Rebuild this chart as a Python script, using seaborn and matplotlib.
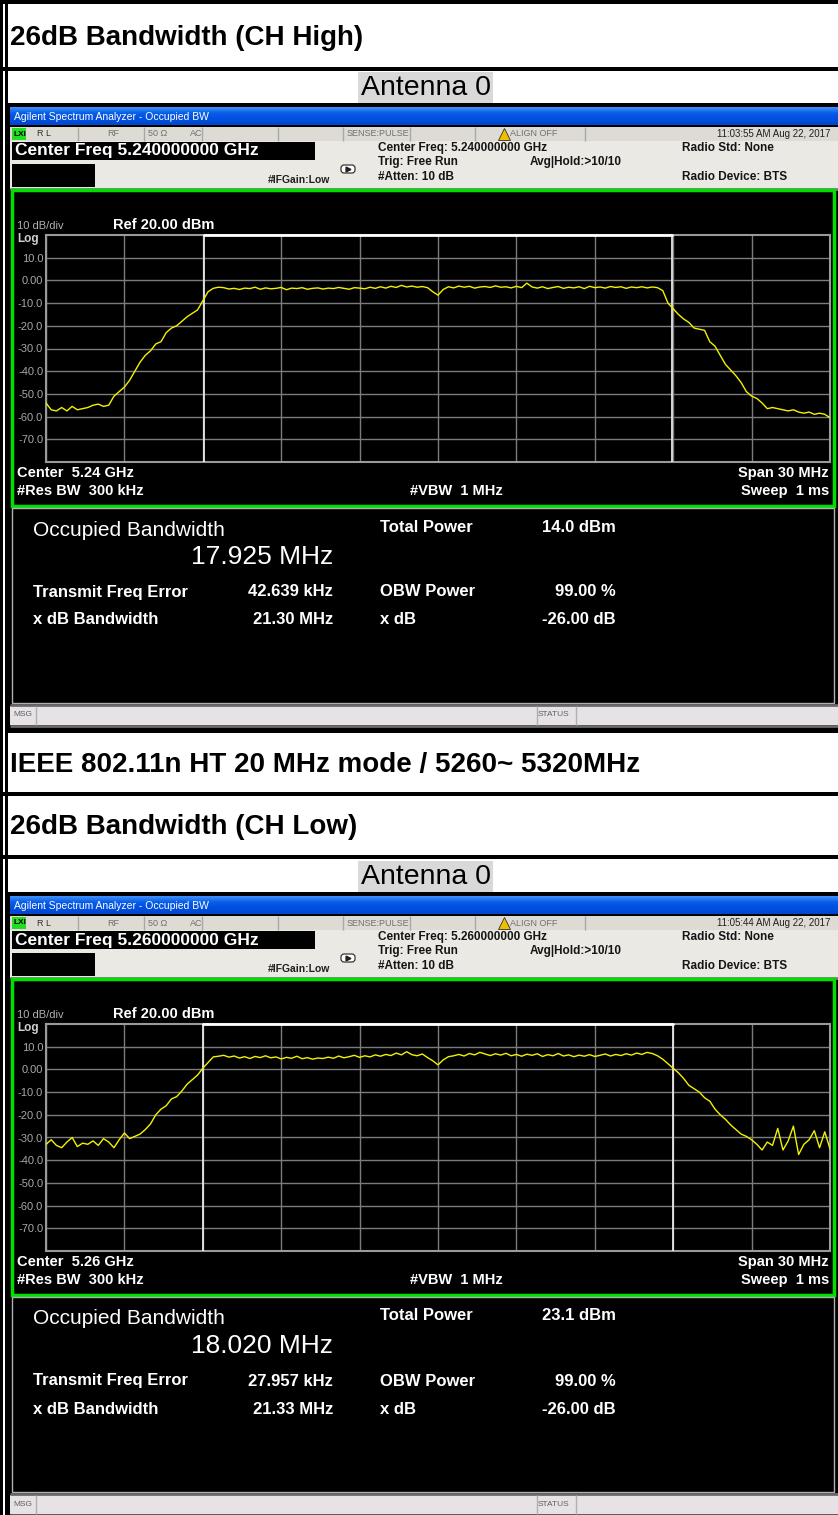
import matplotlib
matplotlib.use('Agg')
import matplotlib.pyplot as plt
from matplotlib.patches import Rectangle, FancyBboxPatch
from matplotlib.colors import LinearSegmentedColormap
import seaborn as sns
import numpy as np

W, H = 838, 1515

# trace values in dBm, sweep from center-15 MHz to center+15 MHz
trace_high = [
    -54.0, -57.0, -57.5, -56.0, -57.5, -55.5, -57.0, -56.5, -56.0, -55.0,
    -54.5, -55.5, -55.0, -51.0, -49.0, -47.0, -44.0, -40.0, -36.0, -33.0,
    -31.0, -28.0, -27.0, -23.0, -21.0, -20.0, -18.0, -16.0, -14.5, -13.0,
    -9.0, -5.0, -3.5, -3.0,
    -3.2, -3.8, -3.5, -4.0, -3.4, -3.6, -3.0, -3.9, -3.3, -3.7,
    -3.5, -3.1, -4.1, -3.4, -3.6, -3.2, -3.9, -3.5, -3.3, -3.8,
    -3.4, -3.6, -3.1, -3.5, -3.9, -3.2, -3.4, -3.7, -3.0, -3.5,
    -2.8, -3.4, -2.6, -3.1, -2.2, -2.9, -2.5, -3.0, -2.7, -3.2,
    -5.0, -6.5, -4.0, -2.8, -3.3, -2.5, -3.0, -2.6, -3.4, -2.9,
    -2.7, -3.1, -2.4, -3.0, -2.8, -3.3, -2.6, -3.2, -1.2, -2.9,
    -3.4, -2.8, -3.6, -3.1, -2.7, -3.5, -3.0, -3.3, -2.8, -3.6,
    -2.6, -3.2, -2.9, -3.4, -2.7, -3.1, -2.8, -3.5, -2.9, -3.2,
    -2.8, -3.3, -2.9, -3.2,
    -4.5, -10.0, -12.5, -15.0, -17.0, -18.5, -21.0, -21.5, -22.0, -27.0,
    -29.0, -33.0, -37.0, -39.5, -42.0, -45.0, -49.0, -51.0, -52.0, -54.0,
    -56.5, -56.0, -56.5, -57.0, -57.5, -57.0, -58.0, -58.5, -58.0, -59.0,
    -58.5, -59.0, -60.5,
]
trace_low = [
    -33.0, -31.0, -33.5, -34.5, -32.0, -30.0, -34.0, -32.5, -33.0, -31.5,
    -33.5, -30.5, -32.0, -34.5, -31.0, -28.0, -30.5, -29.5, -28.5, -26.5,
    -24.0, -20.0, -17.5, -16.0, -13.0, -12.0, -9.5, -6.5, -4.5, -2.5,
    0.5, 3.0, 5.5, 5.8,
    6.2, 5.4, 5.9, 5.0, 5.6, 4.8, 5.7, 5.2, 6.0, 5.1,
    5.5, 4.6, 5.3, 4.9, 5.8, 4.7, 5.2, 4.5, 5.0, 4.8,
    5.4, 4.9, 5.9, 5.1, 5.6, 6.2, 5.3, 6.0, 5.5, 6.4,
    5.8, 6.6, 6.1, 7.2, 6.4, 7.8, 6.5, 6.0, 6.8, 5.2,
    3.8, 2.0, 4.2, 5.6, 6.0, 6.6, 5.9, 7.0, 6.4, 7.5,
    6.8, 6.1, 6.9, 6.3, 7.1, 6.0, 6.6, 5.8, 6.7, 6.2,
    6.9, 5.7, 6.5, 6.0, 7.0, 5.9, 6.4, 5.6, 6.3, 5.8,
    6.5, 5.7, 6.2, 6.8, 5.9, 6.6, 6.1, 6.9, 6.3, 7.2,
    6.6, 7.5,
    7.0, 6.0, 4.5, 2.5, 0.5, -1.5, -4.0, -7.0, -8.5, -10.0,
    -12.5, -14.0, -17.5, -20.0, -22.0, -24.5, -26.5, -28.5, -29.5, -31.0,
    -33.0, -35.5, -32.0, -33.5, -26.0, -35.5, -31.5, -25.0, -37.5, -33.0,
    -31.0, -27.0, -34.5, -27.5, -35.0,
]

section_titles = ['26dB Bandwidth (CH High)', 'IEEE 802.11n HT 20 MHz mode / 5260~ 5320MHz',
                  '26dB Bandwidth (CH Low)']
center_ghz = [5.24, 5.26]
span_mhz = 30
obw_mhz = [17.925, 18.020]
total_power = ['14.0 dBm', '23.1 dBm']
freq_error = ['42.639 kHz', '27.957 kHz']
xdb_bw = ['21.30 MHz', '21.33 MHz']
timestamps = ['11:03:55 AM Aug 22, 2017', '11:05:44 AM Aug 22, 2017']
y_ticks = [10, 0, -10, -20, -30, -40, -50, -60, -70]
y_labels = ['10.0', '0.00', '-10.0', '-20.0', '-30.0', '-40.0', '-50.0', '-60.0', '-70.0']

sns.set_style('white')
plt.rcParams['font.family'] = ['Liberation Sans', 'DejaVu Sans']

fig = plt.figure(figsize=(W / 100, H / 100), dpi=100)
bg = fig.add_axes([0, 0, 1, 1])
bg.set_xlim(0, W)
bg.set_ylim(H, 0)
bg.axis('off')


def box(x0, y0, x1, y1, fc, ec='none', lw=0, z=1):
    bg.add_patch(Rectangle((x0, y0), x1 - x0, y1 - y0, facecolor=fc,
                           edgecolor=ec, linewidth=lw, zorder=z))


def txt(x, y, s, size, color='black', weight='normal', ha='left', z=6):
    bg.text(x, y, s, fontsize=size, color=color, fontweight=weight,
            ha=ha, va='center', zorder=z)


def vline(x, y0, y1, color, lw=1, z=3):
    bg.plot([x, x], [y0, y1], color=color, lw=lw, zorder=z, solid_capstyle='butt')


def hline(y, x0, x1, color, lw=1, z=3):
    bg.plot([x0, x1], [y, y], color=color, lw=lw, zorder=z, solid_capstyle='butt')


# document table
box(0, 0, W, H, 'white', z=0)
box(0, 0, W, 4, 'black')
for y0, y1 in [(67, 71), (792, 796), (855, 859)]:
    box(0, y0, W, y1, 'black')
box(0, 0, 3, H, 'black', z=8)
box(5, 0, 8, H, 'black', z=8)

txt(10, 38, section_titles[0], 20, weight='bold')
txt(10, 765, section_titles[1], 20, weight='bold')
txt(10, 827, section_titles[2], 20, weight='bold')
for ay in [72, 861]:
    box(358, ay, 493, ay + 31, '#d9d9d9')
    txt(425.5, ay + 16, 'Antenna 0', 20.5, ha='center')

title_cmap = LinearSegmentedColormap.from_list('xp', ['#3d8ef8', '#0a5ce8', '#0050e0', '#0046d0'])


def draw_screen(oy, k, trace):
    box(8, oy, W, min(oy + 630, H), 'black')
    # title bar
    grad = np.linspace(0, 1, 20).reshape(-1, 1)
    bg.imshow(grad, extent=[10, W, oy + 22, oy + 4], aspect='auto', cmap=title_cmap, zorder=2)
    txt(14, oy + 14, 'Agilent Spectrum Analyzer - Occupied BW', 7.5, 'white')
    # status row
    box(10, oy + 24, W, oy + 38, '#dedbd4', z=2)
    for dx in [78, 144, 202, 278, 343, 410, 475, 585]:
        vline(dx, oy + 24, oy + 38, '#a8a8a8')
    box(12, oy + 25, 26, oy + 37, '#22dd22', z=3)
    txt(13, oy + 31, 'LXI', 6, weight='bold')
    txt(37, oy + 31, 'R L', 6.5, '#303030')
    txt(107, oy + 31, 'RF', 6.5, '#707070')
    txt(148, oy + 31, '50 Ω', 6.5, '#707070')
    txt(190, oy + 31, 'AC', 6.5, '#707070')
    txt(347, oy + 31, 'SENSE:PULSE', 6.5, '#707070')
    bg.plot(504, oy + 31, marker='^', color='#f0c000', markersize=8,
            markeredgecolor='#303030', markeredgewidth=0.6, zorder=5)
    txt(510, oy + 31, 'ALIGN OFF', 6.5, '#707070')
    txt(830, oy + 31, timestamps[k], 7, '#202020', ha='right')
    # info area
    box(10, oy + 38, W, oy + 86, '#ebe9e3', z=2)
    box(12, oy + 39, 315, oy + 57, 'black', z=3)
    txt(15, oy + 48, f'Center Freq {center_ghz[k]:.9f} GHz', 12.5, 'white', 'bold')
    box(12, oy + 61, 95, oy + 84, 'black', z=3)
    txt(268, oy + 77, '#IFGain:Low', 7.5, '#202020', 'bold')
    bg.add_patch(FancyBboxPatch((341, oy + 62), 14, 8, boxstyle='round,pad=0,rounding_size=3',
                                facecolor='white', edgecolor='#202020', lw=0.8, zorder=4))
    bg.plot(348, oy + 66, marker='>', color='#202020', markersize=3.5, zorder=5)
    txt(378, oy + 45, f'Center Freq: {center_ghz[k]:.9f} GHz', 8.5, '#151515', 'bold')
    txt(378, oy + 59, 'Trig: Free Run', 8.5, '#151515', 'bold')
    txt(378, oy + 74, '#Atten: 10 dB', 8.5, '#151515', 'bold')
    txt(530, oy + 59, 'Avg|Hold:>10/10', 8.5, '#151515', 'bold')
    txt(682, oy + 45, 'Radio Std: None', 8.5, '#151515', 'bold')
    txt(682, oy + 74, 'Radio Device: BTS', 8.5, '#151515', 'bold')
    hline(oy + 86, 10, W, '#7a7a7a', lw=2)
    # trace window
    box(12, oy + 87, 834, oy + 403, 'black', ec='#00e000', lw=2.5, z=3)
    txt(17, oy + 123, '10 dB/div', 8, '#b0b0b0')
    txt(17, oy + 136, 'Log', 8.5, '#d0d0d0', 'bold')
    txt(113, oy + 122, 'Ref 20.00 dBm', 10.5, 'white', 'bold')
    txt(17, oy + 370, f'Center  {center_ghz[k]:.2f} GHz', 10.5, 'white', 'bold')
    txt(829, oy + 370, f'Span {span_mhz} MHz', 10.5, 'white', 'bold', ha='right')
    txt(17, oy + 388, '#Res BW  300 kHz', 10.5, 'white', 'bold')
    txt(410, oy + 388, '#VBW  1 MHz', 10.5, 'white', 'bold')
    txt(829, oy + 388, 'Sweep  1 ms', 10.5, 'white', 'bold', ha='right')

    sax = fig.add_axes([46 / W, 1 - (oy + 359) / H, 784 / W, 227 / H])
    sax.set_facecolor('black')
    freq = np.linspace(-span_mhz / 2, span_mhz / 2, len(trace))
    sns.lineplot(x=freq, y=trace, ax=sax, color='#f2f200', linewidth=1.0, zorder=4)
    sax.set_xlim(-span_mhz / 2, span_mhz / 2)
    sax.set_ylim(-80, 20)
    sax.set_xticks(np.arange(-15, 16, 3))
    sax.set_xticklabels([])
    sax.set_yticks(y_ticks)
    sax.set_yticklabels(y_labels)
    sax.tick_params(length=0, colors='#a8a8a8', labelsize=8, pad=2)
    sax.grid(True, color='#7c7c7c', lw=1)
    for sp in sax.spines.values():
        sp.set_color('#9a9a9a')
        sp.set_linewidth(1.5)
    half = obw_mhz[k] / 2
    sax.axvline(-half, color='#e8e8e8', lw=1.3, zorder=3)
    sax.axvline(half, color='#e8e8e8', lw=1.3, zorder=3)
    sax.plot([-half, half], [20, 20], color='white', lw=2, clip_on=False, zorder=5)
    sax.set_xlabel('')
    sax.set_ylabel('')

    # measurement results
    box(12, oy + 405, 834, oy + 600, 'black', ec='#b0b0b0', lw=1, z=3)
    txt(33, oy + 427, 'Occupied Bandwidth', 15, 'white')
    txt(333, oy + 454, f'{obw_mhz[k]:.3f} MHz', 19, 'white', ha='right')
    txt(380, oy + 424, 'Total Power', 12, 'white', 'bold')
    txt(616, oy + 424, total_power[k], 12, 'white', 'bold', ha='right')
    txt(33, oy + 489, 'Transmit Freq Error', 12, 'white', 'bold')
    txt(333, oy + 489, freq_error[k], 12, 'white', 'bold', ha='right')
    txt(380, oy + 489, 'OBW Power', 12, 'white', 'bold')
    txt(616, oy + 489, '99.00 %', 12, 'white', 'bold', ha='right')
    txt(33, oy + 517, 'x dB Bandwidth', 12, 'white', 'bold')
    txt(333, oy + 517, xdb_bw[k], 12, 'white', 'bold', ha='right')
    txt(380, oy + 517, 'x dB', 12, 'white', 'bold')
    txt(616, oy + 517, '-26.00 dB', 12, 'white', 'bold', ha='right')

    # message bar
    box(10, oy + 603, W, oy + 622, '#e6e2e6', z=3)
    hline(oy + 602, 10, W, '#6a6a6a', lw=2)
    hline(oy + 623, 10, W, '#6a6a6a', lw=2)
    for dx in [36, 537, 576]:
        vline(dx, oy + 603, oy + 622, '#b0b0b0', z=4)
    txt(13, oy + 612, 'MSG', 6, '#606060')
    txt(538, oy + 612, 'STATUS', 6, '#606060')


draw_screen(103, 0, trace_high)
draw_screen(892, 1, trace_low)
bg.set_xlim(0, W)
bg.set_ylim(H, 0)

fig.savefig('out.png', dpi=100, facecolor='white')
